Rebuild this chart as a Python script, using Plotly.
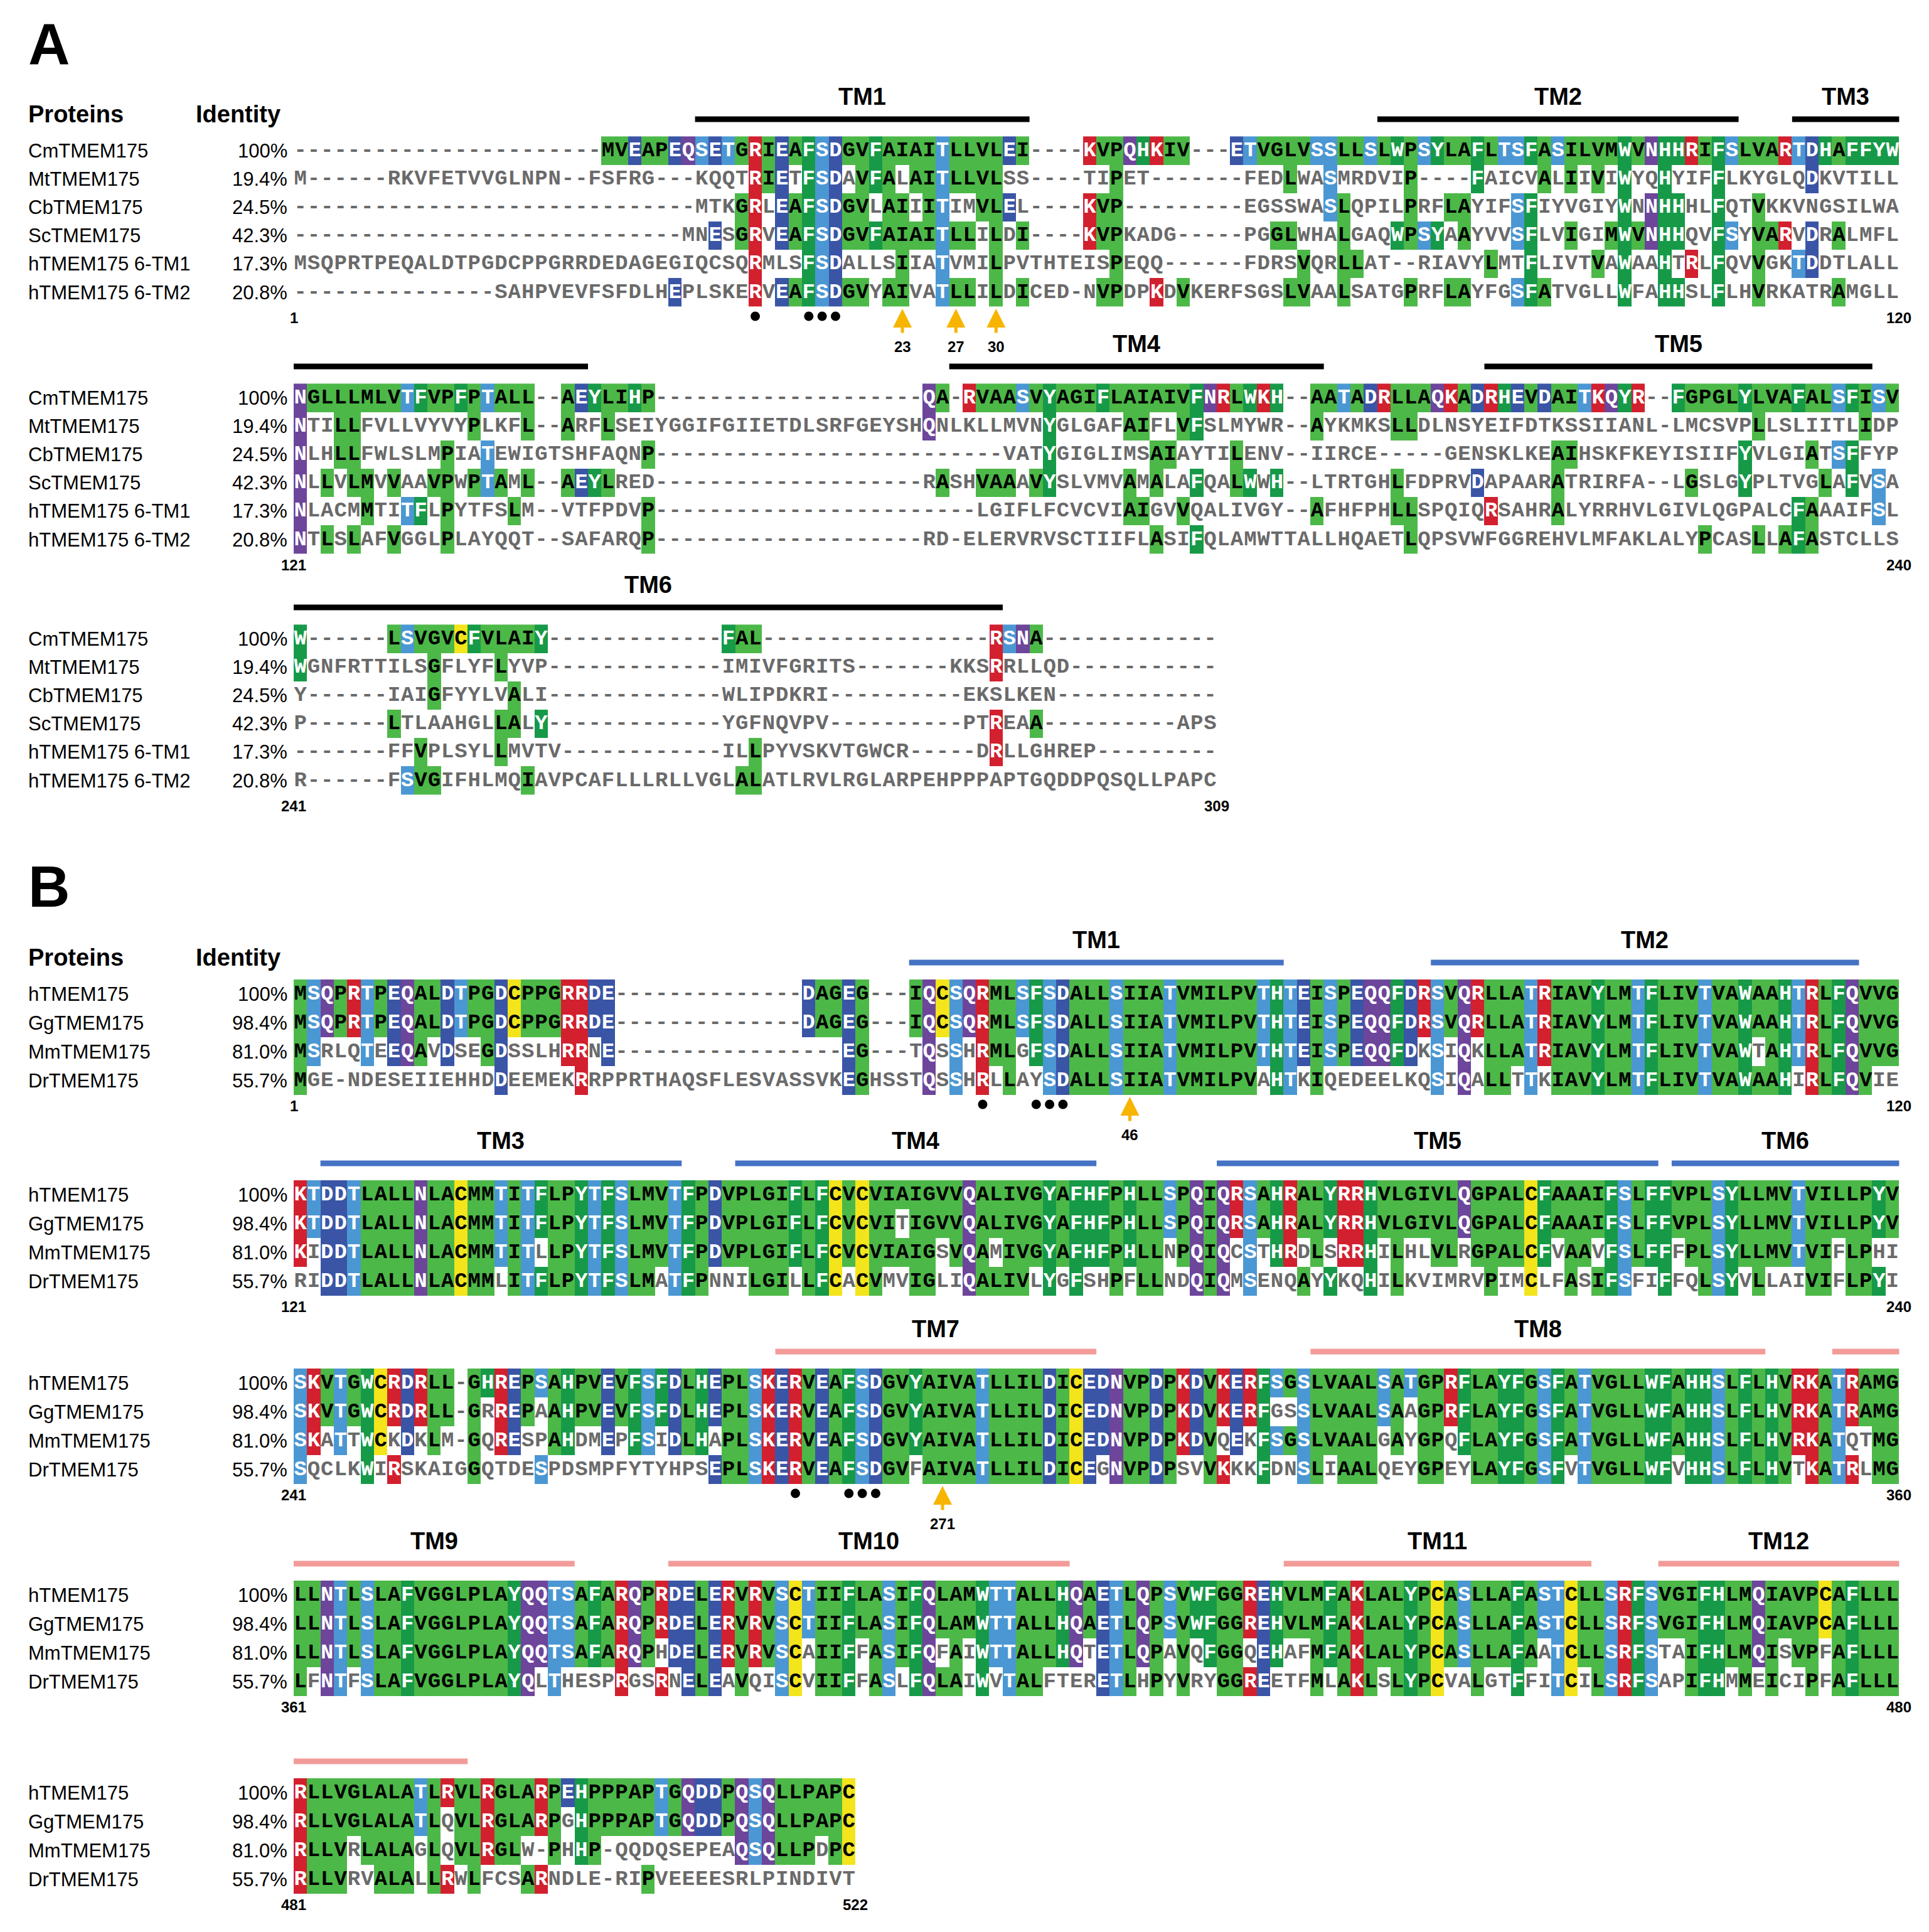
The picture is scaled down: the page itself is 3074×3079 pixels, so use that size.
import numpy as np
import plotly.graph_objects as go

# ---------------- data ----------------
a_names = ["CmTMEM175", "MtTMEM175", "CbTMEM175", "ScTMEM175", "hTMEM175 6-TM1", "hTMEM175 6-TM2"]
a_identity = ["100%", "19.4%", "24.5%", "42.3%", "17.3%", "20.8%"]

a_block1 = [
    "-" * 23 + "MVEAPEQSETGR" + "IEAFSDGVFAIAITLLVLEI----KVPQHKIV---ETVGLVSSLLSLWPSYLAFLTSFASILVMWVNHHRIFSLVARTDHAFFYW",
    "M------RKVFETVVGLNPN--FSFRG---KQQTRIETFSDAVFALAITLLVLSS----TIPET-------FEDLWASMRDVIP----FAICVALIIVIWYQHYIFFLKYGLQDKVTILL",
    "-" * 30 + "MTKGR" + "LEAFSDGVLAIIITIMVLEL----KVP---------EGSSWASLQPILPRFLAYIFSFIYVGIYWNNHHHLFQTVKKVNGSILWA",
    "-" * 29 + "MNESGR" + "VEAFSDGVFAIAITLLILDI----KVPKADG-----PGGLWHALGAQWPSYAAYVVSFLVIGIMWVNHHQVFSYVARVDRALMFL",
    "MSQPRTPEQALDTPGDCPPGRRDEDAGEGIQCSQR" + "MLSFSDALLSIIATVMILPVTHTEISPEQQ------FDRSVQRLLAT--RIAVYLMTFLIVTVAWAAHTRLFQVVGKTDDTLALL",
    "-" * 15 + "SAHPVEVFSFDLHEPLSKER" + "VEAFSDGVYAIVATLLILDICED-NVPDPKDVKERFSGSLVAALSATGPRFLAYFGSFATVGLLWFAHHSLFLHVRKATRAMGLL",
]
a_block2 = [
    "NGLLLMLVTFVPFPTALL--AEYLIHP" + "-" * 20 + "QA-RVAASVYAGIFLAIAIVFNRLWKH--AATADRLLAQKADRHEVDAITKQYR--FGPGLYLVAFALSFISV",
    "NTILLFVLLVYVYPLKFL--ARFLSEIYGGIFGIIETDLSRFGEYSHQNLKLLMVNYGLGAFAIFLVFSLMYWR--AYKMKSLLDLNSYEIFDTKSSIIANL-LMCSVPLLSLIITLIDP",
    "NLHLLFWLSLMPIATEWIGTSHFAQNP" + "-" * 26 + "VATYGIGLIMSAIAYTILENV--IIRCE-----GENSKLKEAIHSKFKEYISIIFYVLGIATSFFYP",
    "NLLVLMVVAAVPWPTAML--AEYLRED" + "-" * 20 + "RASHVAAAVYSLVMVAMALAFQALWWH--LTRTGHLFDPRVDAPAARATRIRFA--LGSLGYPLTVGLAFVSA",
    "NLACMMTITFLPYTFSLM--VTFPDVP" + "-" * 24 + "LGIFLFCVCVIAIGVVQALIVGY--AFHFPHLLSPQIQRSAHRALYRRHVLGIVLQGPALCFAAAIFSL",
    "NTLSLAFVGGLPLAYQQT--SAFARQP" + "-" * 20 + "RD-ELERVRVSCTIIFLASIFQLAMWTTALLHQAETLQPSVWFGGREHVLMFAKLALYPCASLLAFASTCLLS",
]
a_block3 = [
    "W------LSVGVCFVLAIY" + "-" * 13 + "FAL" + "-" * 17 + "RSNA" + "-" * 13,
    "WGNFRTTILSGFLYFLYVP" + "-" * 13 + "IMIVFGRITS" + "-" * 7 + "KKSRRLLQD" + "-" * 11,
    "Y------IAIGFYYLVALI" + "-" * 13 + "WLIPDKRI" + "-" * 10 + "EKSLKEN" + "-" * 12,
    "P------LTLAAHGLLALY" + "-" * 13 + "YGFNQVPV" + "-" * 10 + "PTREAA" + "-" * 10 + "APS",
    "-------FFVPLSYLLMVTV" + "-" * 12 + "ILLPYVSKVTGWCR" + "-" * 5 + "DRLLGHREP" + "-" * 9,
    "R------FSVGIFHLMQIAVPCAFLLLRLLVGLALATLRVLRGLARPEHPPPAPTGQDDPQSQLLPAPC",
]

b_names = ["hTMEM175", "GgTMEM175", "MmTMEM175", "DrTMEM175"]
b_identity = ["100%", "98.4%", "81.0%", "55.7%"]

b_block1 = [
    "MSQPRTPEQALDTPGDCPPGRRDE" + "-" * 14 + "DAGEG---IQCSQRMLSFSDALLSIIATVMILPVTHTEISPEQQFDRSVQRLLATRIAVYLMTFLIVTVAWAAHTRLFQVVG",
    "MSQPRTPEQALDTPGDCPPGRRDE" + "-" * 14 + "DAGEG---IQCSQRMLSFSDALLSIIATVMILPVTHTEISPEQQFDRSVQRLLATRIAVYLMTFLIVTVAWAAHTRLFQVVG",
    "MSRLQTEEQAVDSEGDSSLHRRNE" + "-" * 17 + "EG---TQSSHRMLGFSDALLSIIATVMILPVTHTEISPEQQFDKSIQKLLATRIAVYLMTFLIVTVAWTAHTRLFQVVG",
    "MGE-NDESEIIEHHDDEEMEKRRPPRTHAQSFLESVASSVKEGHSSTQSSHRLLAYSDALLSIIATVMILPVAHTKIQEDEELKQSIQALLTTKIAVYLMTFLIVTVAWAAHIRLFQVIE",
]
b_block2 = [
    "KTDDTLALLNLACMMTITFLPYTFSLMVTFPDVPLGIFLFCVCVIAIGVVQALIVGYAFHFPHLLSPQIQRSAHRALYRRHVLGIVLQGPALCFAAAIFSLFFVPLSYLLMVTVILLPYV",
    "KTDDTLALLNLACMMTITFLPYTFSLMVTFPDVPLGIFLFCVCVITIGVVQALIVGYAFHFPHLLSPQIQRSAHRALYRRHVLGIVLQGPALCFAAAIFSLFFVPLSYLLMVTVILLPYV",
    "KIDDTLALLNLACMMTITLLPYTFSLMVTFPDVPLGIFLFCVCVIAIGSVQAMIVGYAFHFPHLLNPQIQCSTHRDLSRRHILHLVLRGPALCFVAAVFSLFFFPLSYLLMVTVIFLPHI",
    "RIDDTLALLNLACMMLITFLPYTFSLMATFPNNILGILLFCACVMVIGLIQALIVLYGFSHPFLLNDQIQMSENQAYYKQHILKVIMRVPIMCLFASIFSFIFFQLSYVLLAIVIFLPYI",
]
b_block3 = [
    "SKVTGWCRDRLL-GHREPSAHPVEVFSFDLHEPLSKERVEAFSDGVYAIVATLLILDICEDNVPDPKDVKERFSGSLVAALSATGPRFLAYFGSFATVGLLWFAHHSLFLHVRKATRAMG",
    "SKVTGWCRDRLL-GRREPAAHPVEVFSFDLHEPLSKERVEAFSDGVYAIVATLLILDICEDNVPDPKDVKERFGSSLVAALSAAGPRFLAYFGSFATVGLLWFAHHSLFLHVRKATRAMG",
    "SKATTWCKDKLM-GQRESPAHDMEPFSIDLHAPLSKERVEAFSDGVYAIVATLLILDICEDNVPDPKDVQEKFSGSLVAALGAYGPQFLAYFGSFATVGLLWFAHHSLFLHVRKATQTMG",
    "SQCLKWIRSKAIGGQTDESPDSMPFYTYHPSEPLSKERVEAFSDGVFAIVATLLILDICEGNVPDPSVVKKKFDNSLIAALQEYGPEYLAYFGSFVTVGLLWFVHHSLFLHVTKATRLMG",
]
b_block4 = [
    "LLNTLSLAFVGGLPLAYQQTSAFARQPRDELERVRVSCTIIFLASIFQLAMWTTALLHQAETLQPSVWFGGREHVLMFAKLALYPCASLLAFASTCLLSRFSVGIFHLMQIAVPCAFLLL",
    "LLNTLSLAFVGGLPLAYQQTSAFARQPRDELERVRVSCTIIFLASIFQLAMWTTALLHQAETLQPSVWFGGREHVLMFAKLALYPCASLLAFASTCLLSRFSVGIFHLMQIAVPCAFLLL",
    "LLNTLSLAFVGGLPLAYQQTSAFARQPHDELERVRVSCAIIFFASIFQFAIWTTALLHQTETLQPAVQFGGQEHAFMFAKLALYPCASLLAFAATCLLSRFSTAIFHLMQISVPFAFLLL",
    "LFNTFSLAFVGGLPLAYQLTHESPRGSRNELEAVQISCVIIFFASLFQLAIWVTALFTERETLHPYVRYGGREETFMLAKLSLYPCVALGTFFITCILSRFSAPIFHMMEICIPFAFLLL",
]
b_block5 = [
    "RLLVGLALATLRVLRGLARPEHPPPAPTGQDDPQSQLLPAPC",
    "RLLVGLALATLQVLRGLARPGHPPPAPTGQDDPQSQLLPAPC",
    "RLLVRLALAGLQVLRGLW-PHHP-QQDQSEPEAQSQLLPDPC",
    "RLLVRVALALLRWLFCSARNDLE-RIPVEEEESRLPINDIVT",
]

a_ranges = [(1, 120), (121, 240), (241, 309)]
b_ranges = [(1, 120), (121, 240), (241, 360), (361, 480), (481, 522)]

# TM segments: (block index, first col, last col, label)
a_tm = [(0, 31, 55, "TM1"), (0, 82, 108, "TM2"), (0, 113, 120, "TM3"),
        (1, 1, 22, ""), (1, 50, 77, "TM4"), (1, 90, 118, "TM5"),
        (2, 1, 53, "TM6")]
b_tm = [(0, 47, 74, "TM1"), (0, 86, 117, "TM2"),
        (1, 3, 29, "TM3"), (1, 34, 60, "TM4"), (1, 70, 102, "TM5"), (1, 104, 120, "TM6"),
        (2, 37, 60, "TM7"), (2, 77, 110, "TM8"), (2, 116, 120, ""),
        (3, 1, 21, "TM9"), (3, 29, 58, "TM10"), (3, 75, 97, "TM11"), (3, 103, 120, "TM12"),
        (4, 1, 13, "")]

# dots / arrows: (block index, columns); arrows with labels
a_dots = [(0, [35, 39, 40, 41])]
a_arrows = [(0, 46, "23"), (0, 50, "27"), (0, 53, "30")]
b_dots = [(0, [52, 56, 57, 58]), (2, [38, 42, 43, 44])]
b_arrows = [(0, 63, "46"), (2, 49, "271")]

# ---------------- styling ----------------
W, H = 3074, 3079
X0, CW = 460, 21.32
A_TOPS, A_PITCH = [232, 626, 1010], 45.2
B_TOPS, B_PITCH = [1576, 1896, 2196, 2534, 2849], 46.0

GROUP = {}
for c in "AILMVGP":
    GROUP[c] = 1
for c in "FWYH":
    GROUP[c] = 2
for c in "ST":
    GROUP[c] = 3
for c in "DE":
    GROUP[c] = 4
for c in "RK":
    GROUP[c] = 5
for c in "NQ":
    GROUP[c] = 6
GROUP["C"] = 7
PAL = ["#ffffff", "#4cb848", "#179a48", "#4b97d3", "#3a55a6", "#d2202f", "#6d459b", "#f3e41b"]
DARK_TEXT = {1, 7}
SEQ_FONT = "Liberation Mono"

cs = []
for i, col in enumerate(PAL):
    cs.append([i / len(PAL), col])
    cs.append([(i + 1) / len(PAL), col])

fig = go.Figure()
annotations = []
shapes = []


def add_block(seqs, y0, pitch, start, end):
    n = end - start + 1
    seqs = [s.ljust(n, "-")[:n] for s in seqs]
    ref = seqs[0]
    z = np.full((len(seqs), n), np.nan)
    tx, ty, tt, tc = [], [], [], []
    xs = [X0 + (i + 0.5) * CW for i in range(n)]
    ys = [y0 + r * pitch for r in range(len(seqs))]
    for r, s in enumerate(seqs):
        for i, ch in enumerate(s):
            colored = ch != "-" and (r == 0 or ch == ref[i])
            if colored:
                g = GROUP.get(ch, 1)
                z[r, i] = g
                tc.append("#000000" if g in DARK_TEXT else "#ffffff")
            else:
                tc.append("#6a6a6a")
            tx.append(xs[i])
            ty.append(ys[r])
            tt.append(ch)
    fig.add_trace(go.Heatmap(z=z, x=xs, y=ys, colorscale=cs, zmin=0, zmax=len(PAL),
                             showscale=False, hoverinfo="skip", xgap=0, ygap=0))
    fig.add_trace(go.Scatter(x=tx, y=ty, text=tt, mode="text", hoverinfo="skip",
                             textfont=dict(family=SEQ_FONT, size=34, color=tc, weight="bold"),
                             textposition="middle center", showlegend=False))
    bottom = ys[-1] + 40
    annotations.append(dict(x=X0, y=bottom, text=str(start), showarrow=False, xanchor="center",
                            yanchor="middle", font=dict(size=24, family="Liberation Sans", color="black", weight="bold")))
    annotations.append(dict(x=X0 + n * CW, y=bottom, text=str(end), showarrow=False, xanchor="center",
                            yanchor="middle", font=dict(size=24, family="Liberation Sans", color="black", weight="bold")))
    return ys


def add_panel(letter, letter_y, names, identity, blocks, ranges, tops, pitch, tms, tm_colors, dots, arrows):
    annotations.append(dict(x=35, y=letter_y, text="<b>%s</b>" % letter, showarrow=False, xanchor="left",
                            yanchor="middle", font=dict(size=92, family="Liberation Sans", color="black")))
    hy = tops[0] - 58
    annotations.append(dict(x=35, y=hy, text="<b>Proteins</b>", showarrow=False, xanchor="left",
                            yanchor="middle", font=dict(size=38, family="Liberation Sans", color="black")))
    annotations.append(dict(x=302, y=hy, text="<b>Identity</b>", showarrow=False, xanchor="left",
                            yanchor="middle", font=dict(size=38, family="Liberation Sans", color="black")))
    block_ys = []
    for b, (seqs, (s, e), y0) in enumerate(zip(blocks, ranges, tops)):
        ys = add_block(seqs, y0, pitch, s, e)
        block_ys.append(ys)
        for r, y in enumerate(ys):
            annotations.append(dict(x=35, y=y, text=names[r], showarrow=False, xanchor="left", yanchor="middle",
                                    font=dict(size=31, family="Liberation Sans", color="black")))
            annotations.append(dict(x=452, y=y, text=identity[r], showarrow=False, xanchor="right", yanchor="middle",
                                    font=dict(size=31, family="Liberation Sans", color="black")))
    for k, (b, c1, c2, lab) in enumerate(tms):
        y_bar = block_ys[b][0] - 50
        col = tm_colors(k)
        shapes.append(dict(type="line", xref="x", yref="y", x0=X0 + (c1 - 1) * CW, x1=X0 + c2 * CW,
                           y0=y_bar, y1=y_bar, line=dict(color=col, width=9)))
        if lab:
            annotations.append(dict(x=X0 + (c1 - 1 + c2) / 2 * CW, y=y_bar - 36, text="<b>%s</b>" % lab,
                                    showarrow=False, xanchor="center", yanchor="middle",
                                    font=dict(size=38, family="Liberation Sans", color="black")))
    for b, cols in dots:
        y = block_ys[b][-1] + 38
        fig.add_trace(go.Scatter(x=[X0 + (c - 0.5) * CW for c in cols], y=[y] * len(cols), mode="markers",
                                 marker=dict(size=15, color="black"), hoverinfo="skip", showlegend=False))
    for b, c, lab in arrows:
        y = block_ys[b][-1] + 26
        x = X0 + (c - 0.5) * CW
        annotations.append(dict(x=x, y=y, ax=x, ay=y + 40, axref="x", ayref="y", xref="x", yref="y", text="",
                                showarrow=True, arrowhead=2, arrowsize=1.2, arrowwidth=5, arrowcolor="#f7b500"))
        annotations.append(dict(x=x, y=y + 60, text="<b>%s</b>" % lab, showarrow=False, xanchor="center",
                                yanchor="middle", font=dict(size=24, family="Liberation Sans", color="black")))


add_panel("A", 62, a_names, a_identity, [a_block1, a_block2, a_block3], a_ranges, A_TOPS, A_PITCH,
          a_tm, lambda k: "black", a_dots, a_arrows)
add_panel("B", 1405, b_names, b_identity, [b_block1, b_block2, b_block3, b_block4, b_block5], b_ranges,
          B_TOPS, B_PITCH, b_tm, lambda k: "#4472c4" if k < 6 else "#f29b98", b_dots, b_arrows)

fig.update_layout(
    width=W, height=H, margin=dict(l=0, r=0, t=0, b=0),
    plot_bgcolor="white", paper_bgcolor="white", showlegend=False,
    xaxis=dict(range=[0, W], visible=False, fixedrange=True),
    yaxis=dict(range=[H, 0], visible=False, fixedrange=True),
    annotations=annotations, shapes=shapes,
)
fig.write_html("out.html")
